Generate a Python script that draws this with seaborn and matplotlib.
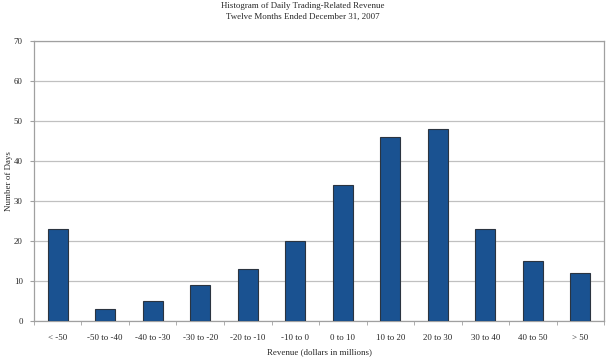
import numpy as np
import pandas as pd
import matplotlib
matplotlib.use("Agg")
import matplotlib.pyplot as plt
import seaborn as sns

categories = ["< -50", "-50 to -40", "-40 to -30", "-30 to -20", "-20 to -10", "-10 to 0",
              "0 to 10", "10 to 20", "20 to 30", "30 to 40", "40 to 50", "> 50"]
days = [23, 3, 5, 9, 13, 20, 34, 46, 48, 23, 15, 12]

df = pd.DataFrame({"range": categories, "days": days})

sns.set_style("white")
plt.rcParams['font.family'] = ['Liberation Serif', 'DejaVu Serif']
fs = 6.4

fig = plt.figure(figsize=(6.06, 3.59), dpi=100)
ax = fig.add_axes([0.056, 0.106, 0.941, 0.780])

sns.barplot(data=df, x="range", y="days", ax=ax, color="#1a5291", saturation=1,
            width=0.42, edgecolor="#2b3440", linewidth=0.8, zorder=3)

ax.set_ylim(0, 70)
ax.set_yticks(np.arange(0, 71, 10))
ax.set_xlim(-0.5, len(categories) - 0.5)
ax.yaxis.grid(True, color="#c0c0c0", linewidth=0.9, zorder=0)
ax.set_axisbelow(True)

for side in ["top", "right", "left", "bottom"]:
    ax.spines[side].set_color("#a0a0a0")
    ax.spines[side].set_linewidth(0.9)

# tick marks at category boundaries on x
ax.set_xticks(np.arange(len(categories)))
ax.set_xticklabels(categories, fontsize=fs)
ax.set_xticks(np.arange(-0.5, len(categories), 1), minor=True)
ax.tick_params(axis="x", which="major", length=0, pad=9.5)
ax.tick_params(axis="x", which="minor", length=3, color="#a0a0a0", direction="out", bottom=True)
ax.tick_params(axis="y", length=3, color="#a0a0a0", direction="out", left=True, labelsize=fs, pad=5)

ax.set_xlabel("Revenue (dollars in millions)", fontsize=fs)
ax.set_ylabel("Number of Days", fontsize=fs)
ax.xaxis.set_label_coords(0.5, -0.097)
ax.yaxis.set_label_coords(-0.037, 0.5)

fig.text(0.5, 0.982, "Histogram of Daily Trading-Related Revenue", ha="center", va="center", fontsize=fs)
fig.text(0.5, 0.954, "Twelve Months Ended December 31, 2007", ha="center", va="center", fontsize=fs)

fig.savefig("out.png", dpi=100)
